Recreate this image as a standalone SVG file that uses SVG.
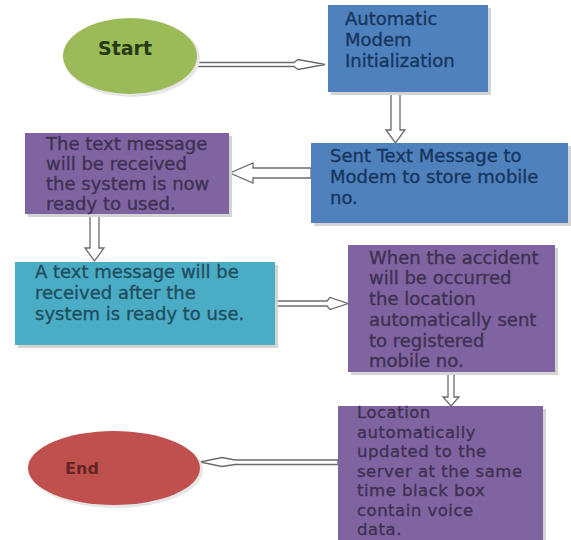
<svg xmlns="http://www.w3.org/2000/svg" width="571" height="540" viewBox="0 0 571 540">
<style>
text{font-family:"DejaVu Sans","Liberation Sans",sans-serif;font-size:18px;stroke-width:0.35px}
.small{font-size:16.5px;letter-spacing:0.5px}
.shadow{fill:#d4d4d4}
.blue{fill:#4f81bd}
.purple{fill:#8064a2}
.cyan{fill:#4bacc6}
.tb{fill:#17365d;stroke:#17365d}
.tp{fill:#3f3151;stroke:#3f3151}
.tc{fill:#1f4f5e;stroke:#1f4f5e}
.arrow{fill:#ffffff;stroke:#6b6b6b;stroke-width:1.3;stroke-linejoin:miter}
</style>
<rect width="571" height="540" fill="#ffffff"/>
<g id="connectors">
<polygon class="arrow" points="197,62.5 294,62.5 298,59.5 325,64.5 298,69.5 294,66.5 197,66.5"/>
<polygon class="arrow" points="391,93 400,93 400,130 405,130 395.5,143 386,130 391,130"/>
<polygon class="arrow" points="311,168 253,168 253,163 230,173 253,183 253,178 311,178"/>
<polygon class="arrow" points="90,215 99,215 99,248 104,248 94.5,261 85,248 90,248"/>
<polygon class="arrow" points="273,301 327,301 330,297.5 348,303.5 330,309.5 327,306 273,306"/>
<polygon class="arrow" points="448,374 454,374 454,397 459,397 451,406 443,397 448,397"/>
<polygon class="arrow" points="338,460 235,460 222,457.5 200,462 222,466.5 235,464.5 338,464.5"/>
</g>
<g id="start">
<ellipse cx="132" cy="58" rx="68" ry="39" fill="#e6e6e6"/>
<ellipse cx="130" cy="56" rx="67" ry="38" fill="#9bbb59"/>
<text x="125" y="55" text-anchor="middle" font-weight="bold" style="font-size:19px" fill="#263a12">Start</text>
</g>
<g id="auto-modem">
<rect class="shadow" x="331" y="8" width="160" height="87"/>
<rect class="blue" x="328" y="5" width="160" height="87"/>
<text class="tb" x="345" y="25">Automatic</text>
<text class="tb" x="345" y="46">Modem</text>
<text class="tb" x="345" y="67">Initialization</text>
</g>
<g id="sent-text">
<rect class="shadow" x="314" y="146" width="257" height="80"/>
<rect class="blue" x="311" y="143" width="257" height="80"/>
<text class="tb" x="330" y="162">Sent Text Message to</text>
<text class="tb" x="330" y="183">Modem to store mobile</text>
<text class="tb" x="330" y="204">no.</text>
</g>
<g id="text-received">
<rect class="shadow" x="28" y="136" width="204" height="81"/>
<rect class="purple" x="25" y="133" width="204" height="81"/>
<text class="tp" x="46" y="150">The text message</text>
<text class="tp" x="46" y="170">will be received</text>
<text class="tp" x="46" y="190">the system is now</text>
<text class="tp" x="46" y="210">ready to used.</text>
</g>
<g id="ready">
<rect class="shadow" x="18" y="265" width="260" height="83"/>
<rect class="cyan" x="15" y="262" width="260" height="83"/>
<text class="tc" x="35" y="278">A text message will be</text>
<text class="tc" x="35" y="299">received after the</text>
<text class="tc" x="35" y="320">system is ready to use.</text>
</g>
<g id="accident">
<rect class="shadow" x="351" y="248" width="207" height="127"/>
<rect class="purple" x="348" y="245" width="207" height="127"/>
<text class="tp" x="369" y="264">When the accident</text>
<text class="tp" x="369" y="284">will be occurred</text>
<text class="tp" x="369" y="305">the location</text>
<text class="tp" x="369" y="326">automatically sent</text>
<text class="tp" x="369" y="347">to registered</text>
<text class="tp" x="369" y="367">mobile no.</text>
</g>
<g id="location">
<rect class="shadow" x="341" y="409" width="205" height="131"/>
<rect class="purple" x="338" y="406" width="205" height="134"/>
<text class="tp small" x="357" y="418">Location</text>
<text class="tp small" x="357" y="437.5">automatically</text>
<text class="tp small" x="357" y="457">updated to the</text>
<text class="tp small" x="357" y="476.5">server at the same</text>
<text class="tp small" x="357" y="496">time black box</text>
<text class="tp small" x="357" y="515.5">contain voice</text>
<text class="tp small" x="357" y="535">data.</text>
</g>
<g id="end">
<ellipse cx="116" cy="470" rx="87" ry="38" fill="#e6e6e6"/>
<ellipse cx="114" cy="468" rx="86" ry="37" fill="#c0504d"/>
<text x="82" y="474" text-anchor="middle" font-weight="bold" style="font-size:16px" fill="#632523">End</text>
</g>
</svg>
